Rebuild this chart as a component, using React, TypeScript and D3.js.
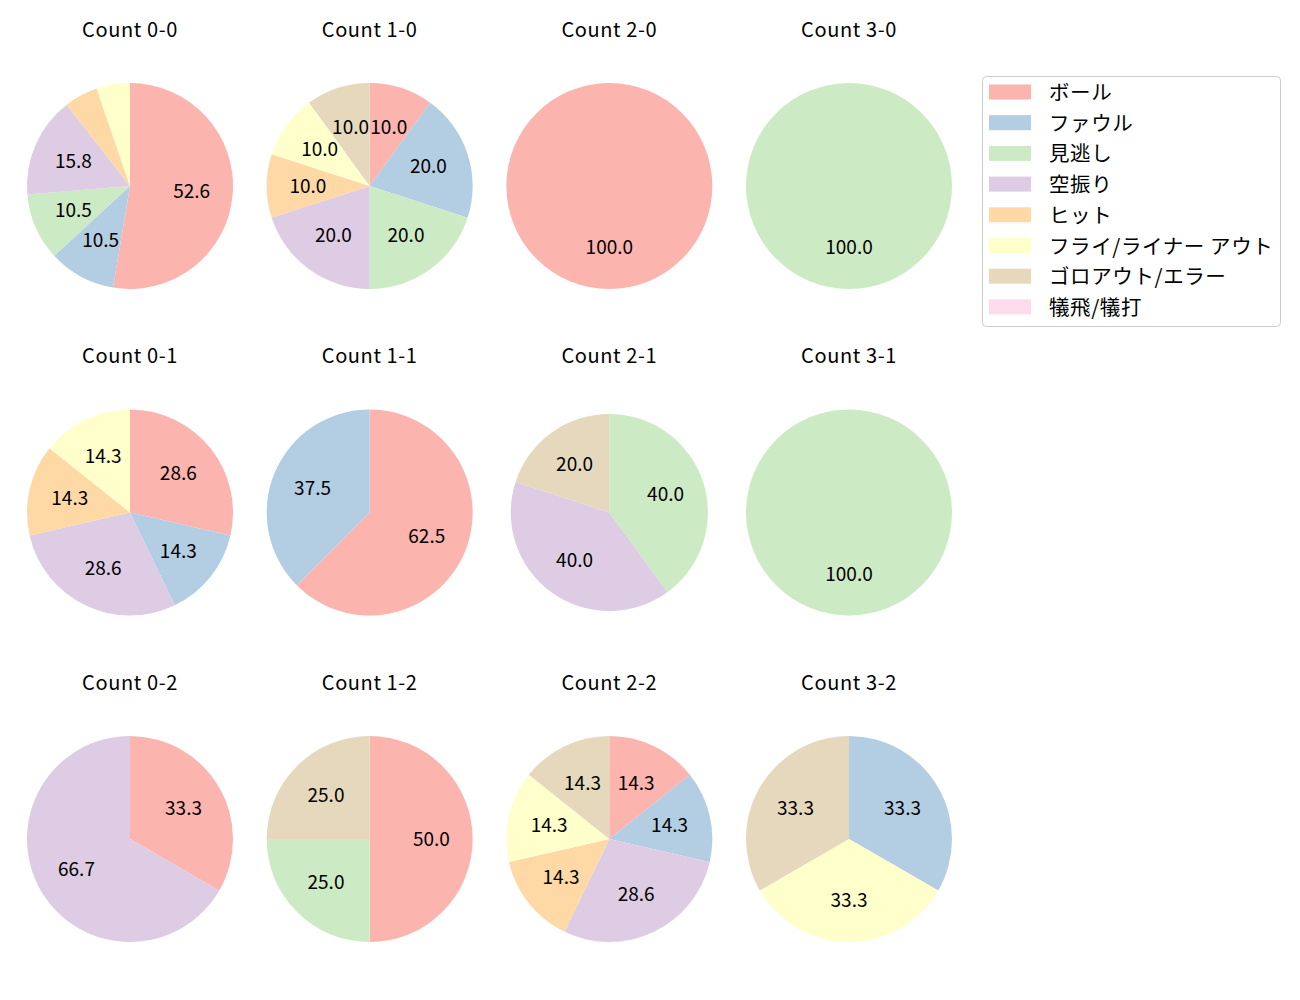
import React from "react";
import * as d3 from "d3";

const categories = ["ボール", "ファウル", "見逃し", "空振り", "ヒット", "フライ/ライナー アウト", "ゴロアウト/エラー", "犠飛/犠打"];
const colors = ["#fbb4ae", "#b3cde3", "#ccebc5", "#decbe4", "#fed9a6", "#ffffcc", "#e5d8bd", "#fddaec"];

const titles = [
  "Count 0-0", "Count 1-0", "Count 2-0", "Count 3-0",
  "Count 0-1", "Count 1-1", "Count 2-1", "Count 3-1",
  "Count 0-2", "Count 1-2", "Count 2-2", "Count 3-2",
];

// counts per category, in category order
const counts00 = [10, 2, 2, 3, 1, 1, 0, 0];
const counts10 = [1, 2, 2, 2, 1, 1, 1, 0];
const counts20 = [1, 0, 0, 0, 0, 0, 0, 0];
const counts30 = [0, 0, 1, 0, 0, 0, 0, 0];
const counts01 = [2, 1, 0, 2, 1, 1, 0, 0];
const counts11 = [5, 3, 0, 0, 0, 0, 0, 0];
const counts21 = [0, 0, 2, 2, 0, 0, 1, 0];
const counts31 = [0, 0, 1, 0, 0, 0, 0, 0];
const counts02 = [1, 0, 0, 2, 0, 0, 0, 0];
const counts12 = [2, 0, 1, 0, 0, 0, 1, 0];
const counts22 = [1, 1, 0, 2, 1, 1, 1, 0];
const counts32 = [0, 1, 0, 0, 0, 1, 1, 0];

const allCounts = [counts00, counts10, counts20, counts30, counts01, counts11, counts21, counts31, counts02, counts12, counts22, counts32];
const radiusScale = [1, 1, 1, 1, 1, 1, 0.957, 1, 1, 1, 1, 1];

const FONT = "'Noto Sans CJK JP', 'Noto Sans', sans-serif";

export default function App() {
  const W = 1300, H = 1000;
  const colX = d3.scaleLinear().domain([0, 3]).range([130, 849]);
  const rowY = d3.scaleLinear().domain([0, 2]).range([186, 839]);
  const R = 103;
  const pie = d3.pie<number>().sort(null).value((d) => d);

  return (
    <svg width={W} height={H} style={{ position: "absolute", left: 0, top: 0 }} fontFamily={FONT}>
      <rect width={W} height={H} fill="#fff" />
      {allCounts.map((cnt, i) => {
        const cx = colX(i % 4);
        const cy = rowY(Math.floor(i / 4));
        const r = R * radiusScale[i];
        const total = d3.sum(cnt);
        const arcs = pie(cnt);
        const arc = d3.arc<d3.PieArcDatum<number>>().innerRadius(0).outerRadius(r);
        const labelArc = d3.arc<d3.PieArcDatum<number>>().innerRadius(r * 0.6).outerRadius(r * 0.6);
        return (
          <g key={i}>
            <text x={cx} y={cy - 158} textAnchor="middle" dominantBaseline="central" fontSize={20} letterSpacing={0.6} fill="#000">
              {titles[i]}
            </text>
            <g transform={`translate(${cx},${cy})`}>
              {arcs.map((a, j) =>
                a.value > 0 ? <path key={j} d={arc(a) || ""} fill={colors[j]} /> : null
              )}
              {arcs.map((a, j) => {
                const pct = (a.value / total) * 100;
                if (a.value <= 0 || pct < 6) return null;
                const [lx, ly] = labelArc.centroid(a);
                return (
                  <text key={"l" + j} x={lx} y={ly - 2} textAnchor="middle" dominantBaseline="central" fontSize={19} fill="#000">
                    {pct.toFixed(1)}
                  </text>
                );
              })}
            </g>
          </g>
        );
      })}
      <g>
        <rect x={982.5} y={76.5} width={298} height={250} rx={4} fill="#fff" stroke="#cccccc" strokeWidth={1} />
        {categories.map((c, k) => (
          <g key={k} transform={`translate(0,${92 + k * 30.7})`}>
            <rect x={989} y={-7.5} width={42} height={15} fill={colors[k]} />
            <text x={1049} y={-1} dominantBaseline="central" fontSize={20.5} letterSpacing={0.6} fill="#000">{c}</text>
          </g>
        ))}
      </g>
    </svg>
  );
}
